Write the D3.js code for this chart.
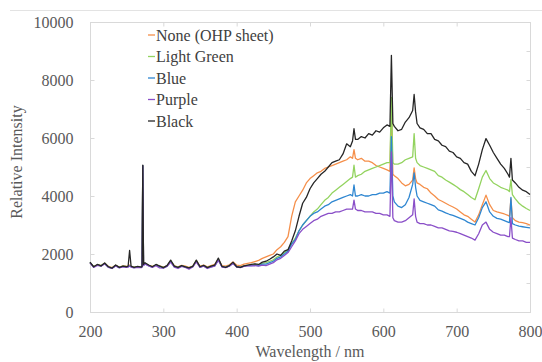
<!DOCTYPE html>
<html>
<head>
<meta charset="utf-8">
<script src="https://cdn.jsdelivr.net/npm/d3@7"></script>
<style>
  body { margin: 0; background: #fff; }
</style>
</head>
<body>
<div id="chart"></div>
<script>
// wavelength grid (nm), shared by every series
var wavelength = [
  200,205,210,215,220,225,230,235,240,245,
  250,252,254,256,260,265,270,271,272,273,
  275,280,285,290,295,300,305,310,315,320,
  325,330,335,340,345,350,355,360,365,370,
  375,380,385,390,395,400,405,410,415,420,
  425,430,435,440,445,450,455,460,465,470,
  475,480,485,490,495,500,505,510,515,520,
  525,530,535,540,545,550,555,558,560,562,
  565,570,575,580,585,590,595,600,605,609,
  611,613,615,620,625,630,635,640,642,644,
  646,650,655,660,665,670,675,680,685,690,
  695,700,705,710,715,720,725,730,735,740,
  745,750,755,760,765,770,772,774,776,780,
  785,790,795,800
];

var noneOHP = [
  1700,1570,1630,1600,1680,1570,1530,1610,1550,1590,
  1570,1580,1620,1570,1550,1560,1550,1570,5040,1630,
  1680,1610,1570,1620,1590,1550,1590,1750,1590,1560,
  1610,1580,1540,1580,1760,1580,1620,1560,1600,1640,
  1820,1600,1580,1630,1720,1620,1600,1650,1680,1700,
  1740,1780,1850,1900,1950,2000,2150,2250,2400,2600,
  3300,3800,4000,4200,4450,4600,4700,4800,4850,4950,
  5000,5050,5100,5150,5200,5250,5350,5300,5600,5300,
  5250,5300,5200,5200,5150,5050,5000,4950,4900,4850,
  7200,4750,4700,4600,4450,4350,4400,4550,4970,4600,
  4450,4400,4300,4250,4100,4000,3880,3820,3750,3680,
  3620,3550,3450,3350,3300,3200,3100,3350,3700,4030,
  3700,3500,3450,3420,3380,3330,3300,3900,3250,3150,
  3100,3080,3050,3000
];

var lightGreen = [
  1710,1560,1630,1600,1680,1560,1520,1610,1540,1580,
  1560,1570,1600,1570,1540,1560,1550,1570,5050,1620,
  1680,1610,1560,1630,1580,1530,1590,1760,1580,1540,
  1590,1560,1520,1570,1770,1560,1600,1530,1570,1600,
  1820,1570,1550,1600,1690,1570,1550,1590,1610,1620,
  1640,1620,1680,1700,1750,1800,1900,1950,2050,2150,
  2350,2550,2800,3000,3150,3300,3450,3550,3700,3850,
  3950,4100,4200,4300,4400,4500,4600,4650,5060,4650,
  4700,4750,4850,4900,4950,5000,5050,5100,5150,5150,
  7400,5150,5100,5100,5150,5250,5300,5350,6150,5300,
  5150,5050,5000,4950,4900,4850,4700,4650,4550,4480,
  4400,4320,4220,4150,4050,3950,3870,4250,4650,4880,
  4600,4450,4380,4300,4250,4200,4150,4560,4050,3900,
  3750,3650,3570,3500
];

var blue = [
  1700,1550,1620,1590,1670,1550,1510,1600,1530,1570,
  1550,1560,1590,1560,1530,1550,1540,1560,5050,1610,
  1670,1600,1550,1620,1570,1520,1580,1740,1560,1530,
  1580,1550,1510,1560,1750,1550,1590,1520,1560,1590,
  1800,1560,1540,1590,1680,1560,1540,1580,1600,1600,
  1620,1600,1650,1650,1700,1750,1850,1900,2000,2100,
  2350,2500,2800,3000,3150,3300,3400,3450,3550,3650,
  3700,3800,3850,3900,3950,4000,4050,4000,4380,4000,
  4000,4050,4000,4000,4050,4050,4100,4100,4150,4100,
  6050,4000,3800,3650,3600,3700,3950,4400,4800,4300,
  4000,3850,3800,3750,3700,3650,3520,3480,3420,3370,
  3330,3280,3230,3180,3100,3050,3000,3250,3600,3800,
  3450,3300,3230,3200,3150,3100,3080,3950,3050,3000,
  2960,2940,2920,2900
];

var purple = [
  1690,1540,1610,1580,1660,1540,1500,1590,1520,1560,
  1540,1550,1580,1550,1520,1540,1530,1550,5040,1600,
  1660,1590,1540,1600,1520,1510,1570,1720,1550,1500,
  1570,1540,1480,1550,1730,1540,1580,1500,1550,1580,
  1780,1550,1530,1580,1670,1550,1530,1570,1590,1590,
  1600,1580,1620,1600,1650,1700,1800,1850,1950,2050,
  2250,2450,2700,2850,2950,3050,3150,3200,3300,3350,
  3400,3400,3450,3450,3500,3550,3550,3550,3860,3550,
  3500,3500,3450,3450,3450,3400,3400,3350,3350,3300,
  5520,3250,3150,3100,3100,3150,3250,3350,3900,3300,
  3100,3050,3050,3000,3000,2950,2900,2900,2850,2800,
  2780,2750,2700,2650,2600,2550,2480,2700,3000,3100,
  2850,2750,2700,2650,2650,2600,2600,3250,2550,2500,
  2450,2450,2400,2400
];

var black = [
  1720,1560,1640,1590,1690,1560,1510,1620,1540,1580,
  1560,1580,2120,1580,1540,1570,1550,1570,5060,1640,
  1700,1620,1560,1640,1580,1530,1600,1790,1580,1540,
  1600,1560,1520,1570,1790,1560,1610,1530,1580,1620,
  1860,1570,1540,1600,1720,1560,1540,1590,1620,1640,
  1660,1640,1720,1750,1820,1900,2000,1950,2100,2150,
  2450,2800,3300,3750,3950,4250,4450,4600,4750,4850,
  5000,5150,5200,5250,5450,5800,5700,5900,6320,5950,
  5950,6050,6000,6150,6100,6250,6200,6350,6450,6400,
  8850,6500,6400,6250,6300,6550,6700,6950,7500,6900,
  6500,6350,6300,6150,6150,5950,5900,5750,5700,5550,
  5500,5350,5300,5150,5100,4850,4700,5100,5600,5980,
  5750,5500,5300,5100,4950,4750,4650,5300,4550,4450,
  4300,4200,4150,4050
];

var seriesNames = ["None (OHP sheet)", "Light Green", "Blue", "Purple", "Black"];
var seriesValues = [noneOHP, lightGreen, blue, purple, black];
var colors = ["#f58f4a", "#93d35f", "#2e86d1", "#8a4fc8", "#262626"];
var xTicks = [200, 300, 400, 500, 600, 700, 800];
var yTicks = [0, 2000, 4000, 6000, 8000, 10000];
var yMinorTicks = [1000, 2000, 3000, 4000, 5000, 6000, 7000, 8000, 9000];

var serif = "'Liberation Serif', 'Times New Roman', Times, serif";

var margin = { top: 22, right: 12, bottom: 50, left: 90 },
    width = 530 - margin.left,
    height = 312 - margin.top;

var root = d3.select("#chart")
    .append("svg")
    .attr("width", 542)
    .attr("height", 362)
    .attr("font-family", serif);

// thin rule across the top of the figure
root.append("line")
    .attr("x1", 10).attr("x2", 542)
    .attr("y1", 10.5).attr("y2", 10.5)
    .attr("stroke", "#e3e3e3")
    .attr("stroke-width", 1);

var svg = root.append("g")
    .attr("transform", "translate(" + margin.left + "," + margin.top + ")");

var x = d3.scaleLinear().domain([200, 800]).range([0, width]);
var y = d3.scaleLinear().domain([0, 10000]).range([height, 0]);

// plot frame
svg.append("rect")
    .attr("x", 0.5).attr("y", 0.5)
    .attr("width", width).attr("height", height)
    .attr("fill", "none")
    .attr("stroke", "#d9d9d9");

// bottom axis (ticks point inward)
var xAxis = svg.append("g")
    .attr("transform", "translate(0," + (height + 0.5) + ")")
    .call(d3.axisBottom(x).tickValues(xTicks).tickSizeInner(-4).tickSizeOuter(0).tickPadding(13).tickFormat(d3.format("d")));
// top ticks
var xTop = svg.append("g")
    .attr("transform", "translate(0,0.5)")
    .call(d3.axisTop(x).tickValues(xTicks).tickSizeInner(-4).tickSizeOuter(0).tickFormat(""));
// left axis
var yAxis = svg.append("g")
    .attr("transform", "translate(0.5,0)")
    .call(d3.axisLeft(y).tickValues(yTicks).tickSizeInner(-4).tickSizeOuter(0).tickPadding(17).tickFormat(d3.format("d")));
// right ticks
var yRight = svg.append("g")
    .attr("transform", "translate(" + (width + 0.5) + ",0)")
    .call(d3.axisRight(y).tickValues(yMinorTicks).tickSizeInner(-4).tickSizeOuter(0).tickFormat(""));

[xAxis, xTop, yAxis, yRight].forEach(function (g) {
    g.attr("font-family", serif).attr("font-size", 16);
    g.select(".domain").remove();
    g.selectAll(".tick line").attr("stroke", "#d9d9d9");
    g.selectAll("text").attr("fill", "#595959");
});

// spectra
var line = d3.line()
    .x(function (d, i) { return x(wavelength[i]); })
    .y(function (d) { return y(d); });

seriesValues.forEach(function (vals, k) {
    svg.append("path")
        .datum(vals)
        .attr("fill", "none")
        .attr("stroke", colors[k])
        .attr("stroke-width", 1.3)
        .attr("stroke-linejoin", "round")
        .attr("d", line);
});

// legend
var legend = root.append("g").attr("transform", "translate(148,35)");
seriesNames.forEach(function (name, k) {
    var row = legend.append("g").attr("transform", "translate(0," + (k * 21.5) + ")");
    row.append("line")
        .attr("x1", 0).attr("x2", 7)
        .attr("y1", 0).attr("y2", 0)
        .attr("stroke", colors[k])
        .attr("stroke-width", 1.3);
    row.append("text")
        .attr("x", 8)
        .attr("y", 0)
        .attr("dy", "0.35em")
        .attr("fill", "#404040")
        .attr("font-size", 16)
        .text(name);
});

// axis titles
root.append("text")
    .attr("x", 310)
    .attr("y", 357)
    .attr("text-anchor", "middle")
    .attr("fill", "#595959")
    .attr("font-size", 16)
    .text("Wavelength / nm");

root.append("text")
    .attr("transform", "translate(22,162) rotate(-90)")
    .attr("text-anchor", "middle")
    .attr("fill", "#595959")
    .attr("font-size", 16)
    .text("Relative Intensity");
</script>
</body>
</html>
